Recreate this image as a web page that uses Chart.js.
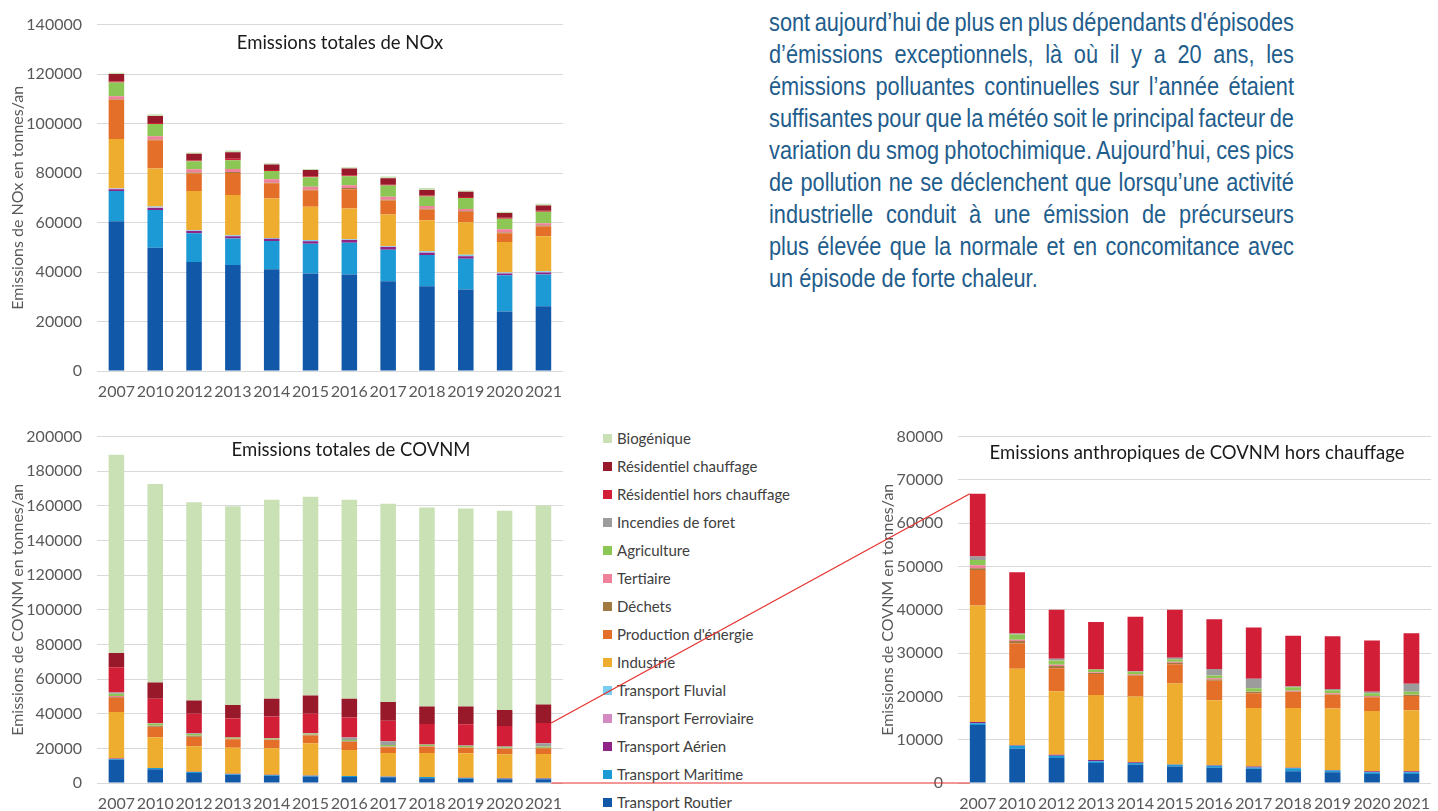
<!DOCTYPE html>
<html lang="fr">
<head>
<meta charset="utf-8">
<title>Emissions de NOx et de COVNM</title>
<script src="https://cdn.jsdelivr.net/npm/chart.js@4.4.1/dist/chart.umd.min.js"></script>
<style>
  html, body { margin:0; padding:0; background:#fff; }
  body { width:1438px; height:811px; position:relative; overflow:hidden; font-family:Lato, sans-serif; }
  canvas.graphe { position:absolute; }
  .titre { position:absolute; transform:translate(-50%,-50%); font:18.5px Lato, sans-serif; color:#1a1a1a; white-space:nowrap; }
  #legende { position:absolute; left:603px; top:424px; }
  #legende div { height:28px; display:flex; align-items:center; font:15px Lato, sans-serif; color:#404040; white-space:nowrap; }
  #legende span { width:9px; height:9px; margin-right:5px; display:inline-block; }
  #texte { position:absolute; left:769px; top:6px; width:627px; transform:scaleX(0.8373); transform-origin:0 0;
           font-family:"Liberation Sans",Arial,sans-serif; font-size:26px; line-height:32px; word-spacing:-4px; color:#1f5d8c; }
  #texte div { text-align:justify; text-align-last:justify; }
  #texte div.fin { text-align-last:left; word-spacing:0; }
  #liens { position:absolute; left:0; top:0; pointer-events:none; z-index:10; }
</style>
</head>
<body>
<div id="texte">
  <div>sont aujourd’hui de plus en plus dépendants d'épisodes</div>
  <div>d’émissions exceptionnels, là où il y a 20 ans, les</div>
  <div>émissions polluantes continuelles sur l’année étaient</div>
  <div>suffisantes pour que la météo soit le principal facteur de</div>
  <div>variation du smog photochimique. Aujourd’hui, ces pics</div>
  <div>de pollution ne se déclenchent que lorsqu’une activité</div>
  <div>industrielle conduit à une émission de précurseurs</div>
  <div>plus élevée que la normale et en concomitance avec</div>
  <div class="fin">un épisode de forte chaleur.</div>
</div>

<canvas id="gNox" class="graphe" width="573" height="410" style="left:0px;top:0px"></canvas>
<canvas id="gCov" class="graphe" width="573" height="410" style="left:0px;top:412px"></canvas>
<canvas id="gAnthro" class="graphe" width="571" height="410" style="left:870px;top:412px"></canvas>

<div class="titre" style="left:340px;top:42px">Emissions totales de NOx</div>
<div class="titre" style="left:351px;top:449px">Emissions totales de COVNM</div>
<div class="titre" style="left:1197px;top:452px">Emissions anthropiques de COVNM hors chauffage</div>

<div id="legende"></div>
<canvas id="liens" width="1438" height="811"></canvas>

<script>
(function(){
  const annees = ['2007','2010','2012','2013','2014','2015','2016','2017','2018','2019','2020','2021'];

  const secteurs = ['Transport Routier','Transport Maritime','Transport Aérien','Transport Ferroviaire','Transport Fluvial',
    'Industrie',"Production d'énergie",'Déchets','Tertiaire','Agriculture','Incendies de foret',
    'Résidentiel hors chauffage','Résidentiel chauffage','Biogénique'];
  const couleurs = ['#1159a8','#1c9ad6','#8e2586','#d48bc1','#7accf0','#eead2e','#e46f28','#a07a40',
    '#f0819a','#8cc756','#9c9c9c','#d21e37','#97192a','#c9e1b4'];

  // NOx (t/an)
  const noxRoutier     = [60500,49800,44100,42800,41100,39400,39000,36300,34300,32900,24000,26200];
  const noxMaritime    = [12200,15300,11600,10800,11400,12000,12800,12700,12600,12500,14700,12800];
  const noxAerien      = [800,800,900,900,900,1000,1100,1100,900,1000,700,800];
  const noxFerroviaire = [200,200,100,100,100,100,100,100,100,100,100,100];
  const noxFluvial     = [200,400,300,300,300,400,300,300,500,500,300,400];
  const noxIndustrie   = [19900,15300,15700,16200,15900,13500,12400,12800,12500,13100,12300,14200];
  const noxEnergie     = [15800,11500,7100,8900,6200,6700,7800,5600,4400,4300,3600,3900];
  const noxDechets     = [200,200,400,400,200,200,500,300,300,300,300,400];
  const noxTertiaire   = [1200,1400,1300,1200,1400,1200,1100,1200,1100,800,1300,900];
  const noxAgriculture = [5600,4900,3300,3600,3300,3800,3600,4600,3800,4400,4200,4700];
  const noxIncendies   = [0,0,0,0,0,0,0,0,0,0,0,0];
  const noxResHors     = [400,400,300,600,400,400,400,300,400,400,400,400];
  const noxResChauff   = [3000,2900,2700,2600,2300,2500,2700,2600,2300,2100,2000,2100];
  const noxBiogenique  = [500,700,500,700,500,400,500,700,800,500,500,700];

  // COVNM (t/an)
  const covRoutier     = [13400,7900,5800,4600,4200,3800,3500,3300,2700,2500,2100,2100];
  const covMaritime    = [400,700,500,400,400,400,500,300,700,400,400,400];
  const covAerien      = [300,100,200,300,200,100,100,200,100,100,200,200];
  const covFerroviaire = [0,0,0,0,0,0,0,0,0,0,0,0];
  const covFluvial     = [0,0,0,0,0,0,0,0,0,0,0,0];
  const covIndustrie   = [26900,17700,14700,15000,15200,18700,15000,13500,13800,14200,13900,14100];
  const covEnergie     = [8200,5900,5300,4900,4800,4400,4500,3400,3700,3200,3200,3300];
  const covDechets     = [400,500,500,200,200,400,300,300,100,100,100,200];
  const covTertiaire   = [700,300,300,200,100,200,300,100,200,200,200,100];
  const covAgriculture = [1200,1200,1000,600,600,600,600,800,800,700,600,700];
  const covIncendies   = [800,200,400,0,100,300,1500,2200,200,300,400,1800];
  const covResHors     = [14500,14200,11300,11000,12600,11100,11500,11800,11700,12200,11800,11700];
  const covResChauff   = [8300,9300,7600,7900,10200,10500,10800,10800,10200,10300,9200,10700];
  const covBiogenique  = [114400,114700,114500,114700,115000,114700,115000,114500,114900,114300,115100,114900];

  const noxSeries = [noxRoutier,noxMaritime,noxAerien,noxFerroviaire,noxFluvial,noxIndustrie,noxEnergie,
    noxDechets,noxTertiaire,noxAgriculture,noxIncendies,noxResHors,noxResChauff,noxBiogenique];
  const covSeries = [covRoutier,covMaritime,covAerien,covFerroviaire,covFluvial,covIndustrie,covEnergie,
    covDechets,covTertiaire,covAgriculture,covIncendies,covResHors,covResChauff,covBiogenique];

  const gris = '#595959';

  function jeux(series){
    return series.map((v,i)=>({ label: secteurs[i], data: v, backgroundColor: couleurs[i], borderWidth: 0 }));
  }

  function options(yMax, pas, titreY, largeurY){
    return {
      responsive: false, animation: false, devicePixelRatio: 1,
      layout: { padding: { top: 20, right: 0, bottom: 0, left: 0 } },
      plugins: { legend: { display: false }, tooltip: { enabled: false } },
      datasets: { bar: { barPercentage: 0.4, categoryPercentage: 1 } },
      scales: {
        x: {
          stacked: true,
          grid: { display: false, drawTicks: false },
          border: { display: false },
          ticks: { color: gris, font: { family: 'Lato', size: 16 }, padding: 11, maxRotation: 0, autoSkip: false },
          afterFit: s => { s.height = 39; }
        },
        y: {
          stacked: true, min: 0, max: yMax,
          grid: { color: '#d9d9d9', lineWidth: 1, drawTicks: false },
          border: { display: false },
          ticks: { stepSize: pas, color: gris, font: { family: 'Lato', size: 16 }, padding: 15, callback: v => String(v) },
          title: { display: true, text: titreY, color: gris, font: { family: 'Lato', size: 16 }, padding: { top: 8, bottom: 0 } },
          afterFit: s => { s.width = largeurY; }
        }
      }
    };
  }

  const gNox = new Chart(document.getElementById('gNox'), {
    type: 'bar',
    data: { labels: annees, datasets: jeux(noxSeries) },
    options: options(140000, 20000, 'Emissions de NOx en tonnes/an', 97)
  });

  const gCov = new Chart(document.getElementById('gCov'), {
    type: 'bar',
    data: { labels: annees, datasets: jeux(covSeries) },
    options: options(200000, 20000, 'Emissions de COVNM en tonnes/an', 97)
  });

  // hors chauffage : sans Résidentiel chauffage ni Biogénique
  const gAnthro = new Chart(document.getElementById('gAnthro'), {
    type: 'bar',
    data: { labels: annees, datasets: jeux(covSeries.slice(0, 12)) },
    options: options(80000, 10000, 'Emissions de COVNM en tonnes/an', 88)
  });

  // légende commune (ordre inverse de l'empilement)
  const leg = document.getElementById('legende');
  secteurs.slice().reverse().forEach((nom, k)=>{
    const i = secteurs.length - 1 - k;
    const d = document.createElement('div');
    d.innerHTML = `<span style="background:${couleurs[i]}"></span>${nom}`;
    leg.appendChild(d);
  });

  // traits rouges reliant la barre 2021 (COVNM) au graphe hors chauffage
  function liens(){
    const cv2 = document.getElementById('gCov'), cv3 = document.getElementById('gAnthro');
    const ctx = document.getElementById('liens').getContext('2d');
    const iRes = 11;
    const bDep = gCov.getDatasetMeta(iRes).data[annees.length - 1];
    const bArr = gAnthro.getDatasetMeta(iRes).data[0];
    const x1 = cv2.offsetLeft + bDep.x + bDep.width / 2;
    const x2 = cv3.offsetLeft + bArr.x - bArr.width / 2;
    const y1 = cv2.offsetTop + bDep.y;
    const y2 = cv3.offsetTop + bArr.y;
    const z1 = cv2.offsetTop + gCov.scales.y.getPixelForValue(0);
    const z2 = cv3.offsetTop + gAnthro.scales.y.getPixelForValue(0);
    ctx.strokeStyle = '#e5302c';
    ctx.lineWidth = 1.2;
    ctx.beginPath();
    ctx.moveTo(x1, y1); ctx.lineTo(x2, y2);
    ctx.stroke();
    ctx.beginPath();
    ctx.moveTo(x1, z1); ctx.lineTo(x2, z2);
    ctx.stroke();
  }
  liens();
})();
</script>
</body>
</html>
